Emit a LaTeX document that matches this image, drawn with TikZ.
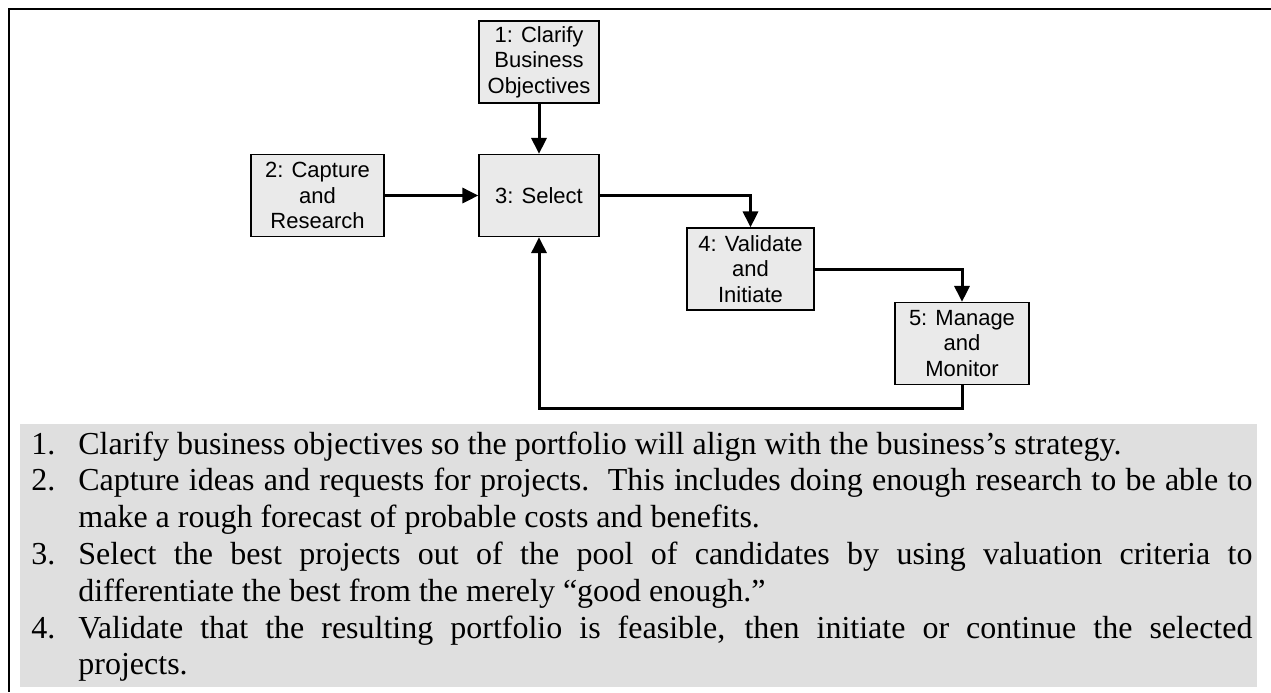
\documentclass[tikz,border=0pt]{standalone}
\usepackage{xcolor}
\usepackage{fontspec}
\setmainfont{Liberation Serif}
\setsansfont{Liberation Sans}
\usepackage{tikz}
\usetikzlibrary{arrows.meta}

\definecolor{stepgrey}{HTML}{EAEAEA}
\definecolor{panelgrey}{HTML}{DFDFDF}

\newcommand{\stepitem}[2]{\hangindent=23.5pt\hangafter=1\noindent\makebox[23.5pt][l]{#1}#2\par}

\begin{document}
\begin{tikzpicture}[
		x=0.5pt,
		y=-0.5pt,
		>={Triangle[length=8pt,width=7.5pt]},
	]
		\tikzset{stepbox/.style={
			draw,
			rectangle,
			fill=stepgrey,
			line width=0.6pt,
			minimum height=41pt,
			inner sep=1,
			align=center,
			font=\sffamily\fontsize{11pt}{12.8pt}\selectfont,
		}}
		\tikzset{flow/.style={
			->,
			line width=1.5pt,
		}}

		\useasboundingbox (0,0) rectangle (1271,692);

		\draw[line width=1.2pt] (1271,9) -- (9,9) -- (9,692);

		\node[stepbox, minimum width=60pt] (clarify) at (539,62) {1: Clarify\\Business\\Objectives};
		\node[stepbox, minimum width=60pt] (select) at (539,195.5) {3: Select};
		\node[stepbox, minimum width=66.5pt] (capture) at (317.5,195.5) {2: Capture\\and\\Research};
		\node[stepbox, minimum width=63.5pt] (validate) at (750.5,269) {4: Validate\\and\\Initiate};
		\node[stepbox, minimum width=67pt] (manage) at (962,343.5) {5: Manage\\and\\Monitor};

		\coordinate (loopturn) at (962,408);

		\draw[flow] (clarify) -- (select);
		\draw[flow] (capture) -- (select);
		\draw[flow] (select.east) -| (validate.north);
		\draw[flow] (validate.east) -| (manage.north);
		\draw[flow] (manage.south) -- (loopturn) -| (select.south);

		\fill[panelgrey] (20,424) rectangle (1257,687);

		\node[
			anchor=base west,
			text width=610.5pt,
			align=justify,
			inner sep=0,
			font=\fontsize{16pt}{18.4pt}\selectfont,
		] (notes) at (31,454) {%
			\stepitem{1.}{Clarify business objectives so the portfolio will align with the business's strategy.}%
			\stepitem{2.}{Capture ideas and requests for projects.\ \ This includes doing enough research to be able to\linebreak make a rough forecast of probable costs and benefits.}%
			\stepitem{3.}{Select the best projects out of the pool of candidates by using valuation criteria to\linebreak differentiate the best from the merely ``good enough.''}%
			\stepitem{4.}{Validate that the resulting portfolio is feasible, then initiate or continue the selected\linebreak projects.}};
	\end{tikzpicture}
\end{document}
